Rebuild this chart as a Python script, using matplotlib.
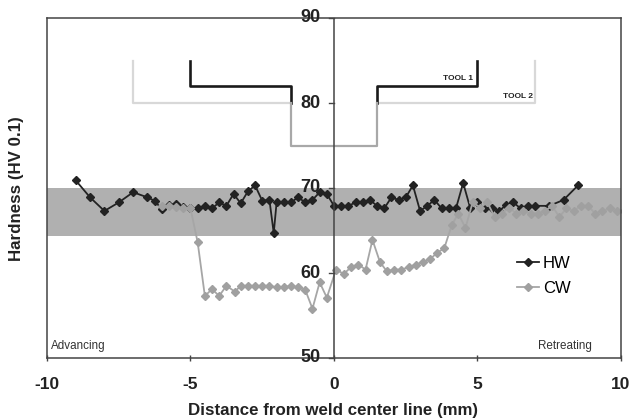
import matplotlib
matplotlib.use("Agg")
from matplotlib import pyplot as plt

plt.rcParams['font.family'] = ['Liberation Sans', 'DejaVu Sans']

hw_x = [-9, -8.5, -8, -7.5, -7, -6.5, -6.25, -6, -5.75, -5.5, -5.25, -5, -4.75, -4.5, -4.25, -4,
        -3.75, -3.5, -3.25, -3, -2.75, -2.5, -2.25, -2.1, -2, -1.75, -1.5, -1.25, -1, -0.75, -0.5, -0.25,
        0, 0.25, 0.5, 0.75, 1, 1.25, 1.5, 1.75, 2, 2.25, 2.5, 2.75, 3, 3.25, 3.5, 3.75, 4, 4.25,
        4.5, 4.75, 5, 5.25, 5.5, 5.75, 6, 6.25, 6.5, 6.75, 7, 7.5, 8, 8.5]
hw_y = [70.9, 68.9, 67.3, 68.3, 69.5, 68.9, 68.5, 67.5, 68.0, 68.1, 67.8, 67.6, 67.6, 67.9, 67.6, 68.3,
        67.9, 69.3, 68.2, 69.6, 70.3, 68.5, 68.6, 64.7, 68.3, 68.3, 68.3, 68.9, 68.3, 68.6, 69.5, 69.3,
        67.9, 67.9, 67.9, 68.3, 68.3, 68.6, 67.9, 67.6, 68.9, 68.6, 68.9, 70.3, 67.3, 67.9, 68.6, 67.6,
        67.6, 67.6, 70.6, 67.6, 68.3, 67.6, 67.6, 67.3, 68.0, 68.3, 67.6, 67.9, 67.9, 67.9, 68.6, 70.3]

cw_x = [-6, -5.75, -5.5, -5.25, -5, -4.75, -4.5, -4.25, -4, -3.75, -3.45, -3.25, -3, -2.75, -2.5,
        -2.25, -2, -1.75, -1.5, -1.25, -1, -0.75, -0.5, -0.25, 0.07, 0.34, 0.6, 0.85, 1.1, 1.34,
        1.6, 1.84, 2.1, 2.35, 2.6, 2.85, 3.1, 3.34, 3.6, 3.84, 4.1, 4.33, 4.58, 4.83, 5.1, 5.34,
        5.6, 5.85, 6.1, 6.35, 6.6, 6.85, 7.1, 7.35, 7.6, 7.85, 8.1, 8.35, 8.6, 8.85, 9.1, 9.35, 9.6, 9.85, 10.1]
cw_y = [67.9, 67.9, 67.8, 67.6, 67.6, 63.6, 57.3, 58.1, 57.3, 58.5, 57.8, 58.5, 58.5, 58.5, 58.5,
        58.5, 58.3, 58.3, 58.5, 58.3, 58.0, 55.8, 58.9, 57.1, 60.4, 59.9, 60.7, 61.0, 60.4, 63.9,
        61.3, 60.2, 60.4, 60.4, 60.7, 61.0, 61.3, 61.6, 62.4, 62.9, 65.6, 67.0, 65.3, 68.3, 67.7, 68.3,
        66.6, 67.0, 67.7, 67.0, 67.3, 67.0, 67.0, 67.3, 67.9, 66.6, 67.6, 67.3, 67.9, 67.9, 67.0, 67.3, 67.6, 67.3, 67.3]

band = [64.3, 70]

tool1_left_x = [-5, -5, -1.5, -1.5]
tool1_left_y = [85, 82, 82, 80]
tool1_right_x = [1.5, 1.5, 5, 5]
tool1_right_y = [80, 82, 82, 85]
tool2_outer_left_x = [-7, -7, -1.5]
tool2_outer_left_y = [85, 80, 80]
tool2_outer_right_x = [1.5, 7, 7]
tool2_outer_right_y = [80, 80, 85]
tool2_pin_x = [-1.5, -1.5, 1.5, 1.5]
tool2_pin_y = [80, 75, 75, 80]

W, H = 632, 420
fig = plt.figure(figsize=(W/100, H/100), dpi=100)
ax = fig.add_axes([47/W, 1-358/H, 574/W, 340/H])
ax.set_xlim(-10, 10)
ax.set_ylim(50, 90)

ax.axhspan(band[0], band[1], color='#b0b0b0', lw=0, zorder=1)

ax.plot(tool2_outer_left_x, tool2_outer_left_y, color='#d8d8d8', lw=1.6, zorder=2)
ax.plot(tool2_outer_right_x, tool2_outer_right_y, color='#d8d8d8', lw=1.6, zorder=2)
ax.plot(tool1_left_x, tool1_left_y, color='#1a1a1a', lw=1.9, zorder=2)
ax.plot(tool1_right_x, tool1_right_y, color='#1a1a1a', lw=1.9, zorder=2)
ax.plot(tool2_pin_x, tool2_pin_y, color='#a8a8a8', lw=1.6, zorder=2)

ax.plot(hw_x, hw_y, color='#222222', lw=1.3, marker='D', ms=4.2, mfc='#222222', mec='#222222', label='HW', zorder=3)
ax.plot(cw_x, cw_y, color='#a6a6a6', lw=1.3, marker='D', ms=4.2, mfc='#a0a0a0', mec='#a0a0a0', label='CW', zorder=4)

for s in ['left', 'right', 'top', 'bottom']:
    ax.spines[s].set_color('#444444')
    ax.spines[s].set_linewidth(1.1)
    ax.spines[s].set_zorder(5)

ax.set_xticks([-10, -5, 0, 5, 10])
ax.set_xticklabels(['-10', '-5', '0', '5', '10'], fontsize=12.5, fontweight='bold', color='#222222')
ax.tick_params(axis='x', length=5, width=1, color='#444444', pad=11, direction='inout')

# the y axis sits on the weld centre line
ax.set_yticks([])
ax.axvline(0, color='#444444', lw=1.1, zorder=5)
for v in [50, 60, 70, 80, 90]:
    ax.plot([-0.19, 0], [v, v], color='#444444', lw=1, zorder=5, clip_on=False)
    ax.text(-0.48, v, str(v), ha='right', va='center', fontsize=13, fontweight='bold', color='#222222', zorder=6)

ax.text(-9.85, 51.4, 'Advancing', fontsize=8.4, color='#333333', va='center')
ax.text(9.0, 51.4, 'Retreating', fontsize=8.4, color='#333333', va='center', ha='right')
ax.text(4.85, 82.85, 'TOOL 1', fontsize=6, fontweight='bold', color='#222222', va='center', ha='right')
ax.text(6.95, 80.8, 'TOOL 2', fontsize=6, fontweight='bold', color='#222222', va='center', ha='right')

ax.legend(loc='upper left', bbox_to_anchor=(470/574, 0.3), frameon=False, fontsize=12,
          handlelength=1.3, handletextpad=0.25, labelspacing=0.6, borderpad=0, borderaxespad=0)

fig.text(333/W, 1-411/H, 'Distance from weld center line (mm)', ha='center', va='center',
         fontsize=12.2, fontweight='bold', color='#222222')
fig.text(17/W, 1-189/H, 'Hardness (HV 0.1)', rotation=90, ha='center', va='center',
         fontsize=12.2, fontweight='bold', color='#222222')

fig.savefig('out.png', dpi=100)
